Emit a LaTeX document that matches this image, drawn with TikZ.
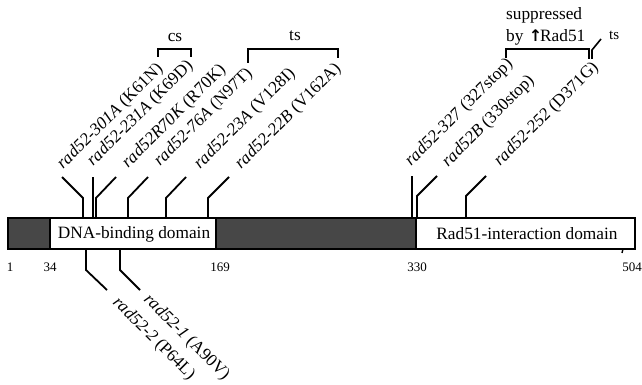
\documentclass[tikz,border=0pt]{standalone}
\usepackage{fontspec}
\setmainfont{Liberation Serif}
\newfontfamily\symfont{DejaVu Sans}
\begin{document}
\begin{tikzpicture}[x=1pt,y=-1pt,
  mut/.style={line width=1.8pt},
  brk/.style={line width=1.6pt},
  lab/.style={font=\fontsize{17.3}{20}\selectfont, inner sep=0pt, anchor=base west},
  num/.style={font=\fontsize{13}{15}\selectfont, inner sep=0pt, anchor=base},
  dom/.style={font=\fontsize{17.3}{20}\selectfont, inner sep=0pt},
  darkseg/.style={fill=black!72}]
\useasboundingbox (0,0) rectangle (642,385);

% bar
\fill[darkseg] (8,218) rectangle (50,249);
\fill[darkseg] (216,218) rectangle (416,249);
\draw[line width=1.9pt] (8,218) rectangle (635,249);
\draw[line width=1.4pt] (50,218) -- (50,249);
\draw[line width=1.4pt] (216,218) -- (216,249);
\draw[line width=1.4pt] (416,218) -- (416,249);
\draw[line width=1.4pt] (623,249) -- (622,253);

\node[dom] (dna) at (134,234) {DNA-binding domain};
\node[dom] (rad) at (527,234) {Rad51-interaction domain};

% position numbers
\node[num] (n1) at (10,271) {1};
\node[num] (n34) at (50,271) {34};
\node[num] (n169) at (220,271) {169};
\node[num] (n330) at (417,271) {330};
\node[num] (n504) at (632,271) {504};

% labels above
\node[lab, rotate=45] (l1) at (63,170) {\textit{rad52-301A} (K61N)};
\node[lab, rotate=45] (l2) at (93,167) {\textit{rad52-231A} (K69D)};
\node[lab, rotate=45] (l3) at (128,169) {\textit{rad52R70K} (R70K)};
\node[lab, rotate=45] (l4) at (160,167) {\textit{rad52-76A} (N97T)};
\node[lab, rotate=45] (l5) at (200,170) {\textit{rad52-23A} (V128I)};
\node[lab, rotate=45] (l6) at (241,170) {\textit{rad52-22B} (V162A)};
\node[lab, rotate=45] (l7) at (411,167) {\textit{rad52-327} (327stop)};
\node[lab, rotate=45] (l8) at (448,168) {\textit{rad52B} (330stop)};
\node[lab, rotate=45] (l9) at (500,167) {\textit{rad52-252} (D371G)};
% labels below
\node[lab, rotate=-45] (l10) at (112,303) {\textit{rad52-2} (P64L)};
\node[lab, rotate=-45] (l11) at (143,300) {\textit{rad52-1} (A90V)};

% mutation lines
\coordinate (a1) at (83,218);  \coordinate (b1) at (83,198);  \coordinate (c1) at (62,177);
\coordinate (a2) at (93,218);  \coordinate (c2) at (93,177);
\coordinate (a3) at (96,218);  \coordinate (b3) at (96,198);  \coordinate (c3) at (116,177);
\coordinate (a4) at (128,218); \coordinate (b4) at (128,198); \coordinate (c4) at (148,177);
\coordinate (a5) at (166,218); \coordinate (b5) at (166,198); \coordinate (c5) at (186,177);
\coordinate (a6) at (208,218); \coordinate (b6) at (208,198); \coordinate (c6) at (229,177);
\coordinate (a7) at (412,218); \coordinate (c7) at (412,176);
\coordinate (a8) at (417,218); \coordinate (b8) at (417,196); \coordinate (c8) at (437,176);
\coordinate (a9) at (466,218); \coordinate (b9) at (466,196); \coordinate (c9) at (486,176);
\coordinate (a10) at (86,249);  \coordinate (b10) at (86,270);  \coordinate (c10) at (107,290);
\coordinate (a11) at (120,249); \coordinate (b11) at (120,270); \coordinate (c11) at (140,290);

\draw[mut] (a1) -- (b1) -- (c1);
\draw[mut] (a2) -- (c2);
\draw[mut] (a3) -- (b3) -- (c3);
\draw[mut] (a4) -- (b4) -- (c4);
\draw[mut] (a5) -- (b5) -- (c5);
\draw[mut] (a6) -- (b6) -- (c6);
\draw[mut] (a7) -- (c7);
\draw[mut] (a8) -- (b8) -- (c8);
\draw[mut] (a9) -- (b9) -- (c9);
\draw[mut] (a10) -- (b10) -- (c10);
\draw[mut] (a11) -- (b11) -- (c11);

% brackets
\draw[brk] (158,57) -- (158,49) -- (191,49) -- (191,57);
\node[lab, anchor=base] (cs) at (175,42) {cs};
\draw[brk] (248,63) -- (248,49) -- (338,49) -- (338,58);
\node[lab, anchor=base] (ts1) at (295,41) {ts};
\draw[brk] (506,58) -- (506,49) -- (589,49) -- (589,59);
\node[lab] (sup) at (506,20) {suppressed};
\node[lab] (by) at (506,42) {by};
\node[inner sep=0pt, anchor=base, font=\symfont\bfseries\fontsize{16}{16}\selectfont] (arr) at (535.5,42) {↑};
\node[lab] (r51) at (540,42) {Rad51};
\coordinate (t1) at (592,59); \coordinate (t2) at (592,50); \coordinate (t3) at (601,39);
\draw[brk] (t1) -- (t2) -- (t3);
\node[lab, font=\fontsize{15}{17}\selectfont] (ts2) at (609,40) {ts};
\end{tikzpicture}
\end{document}
